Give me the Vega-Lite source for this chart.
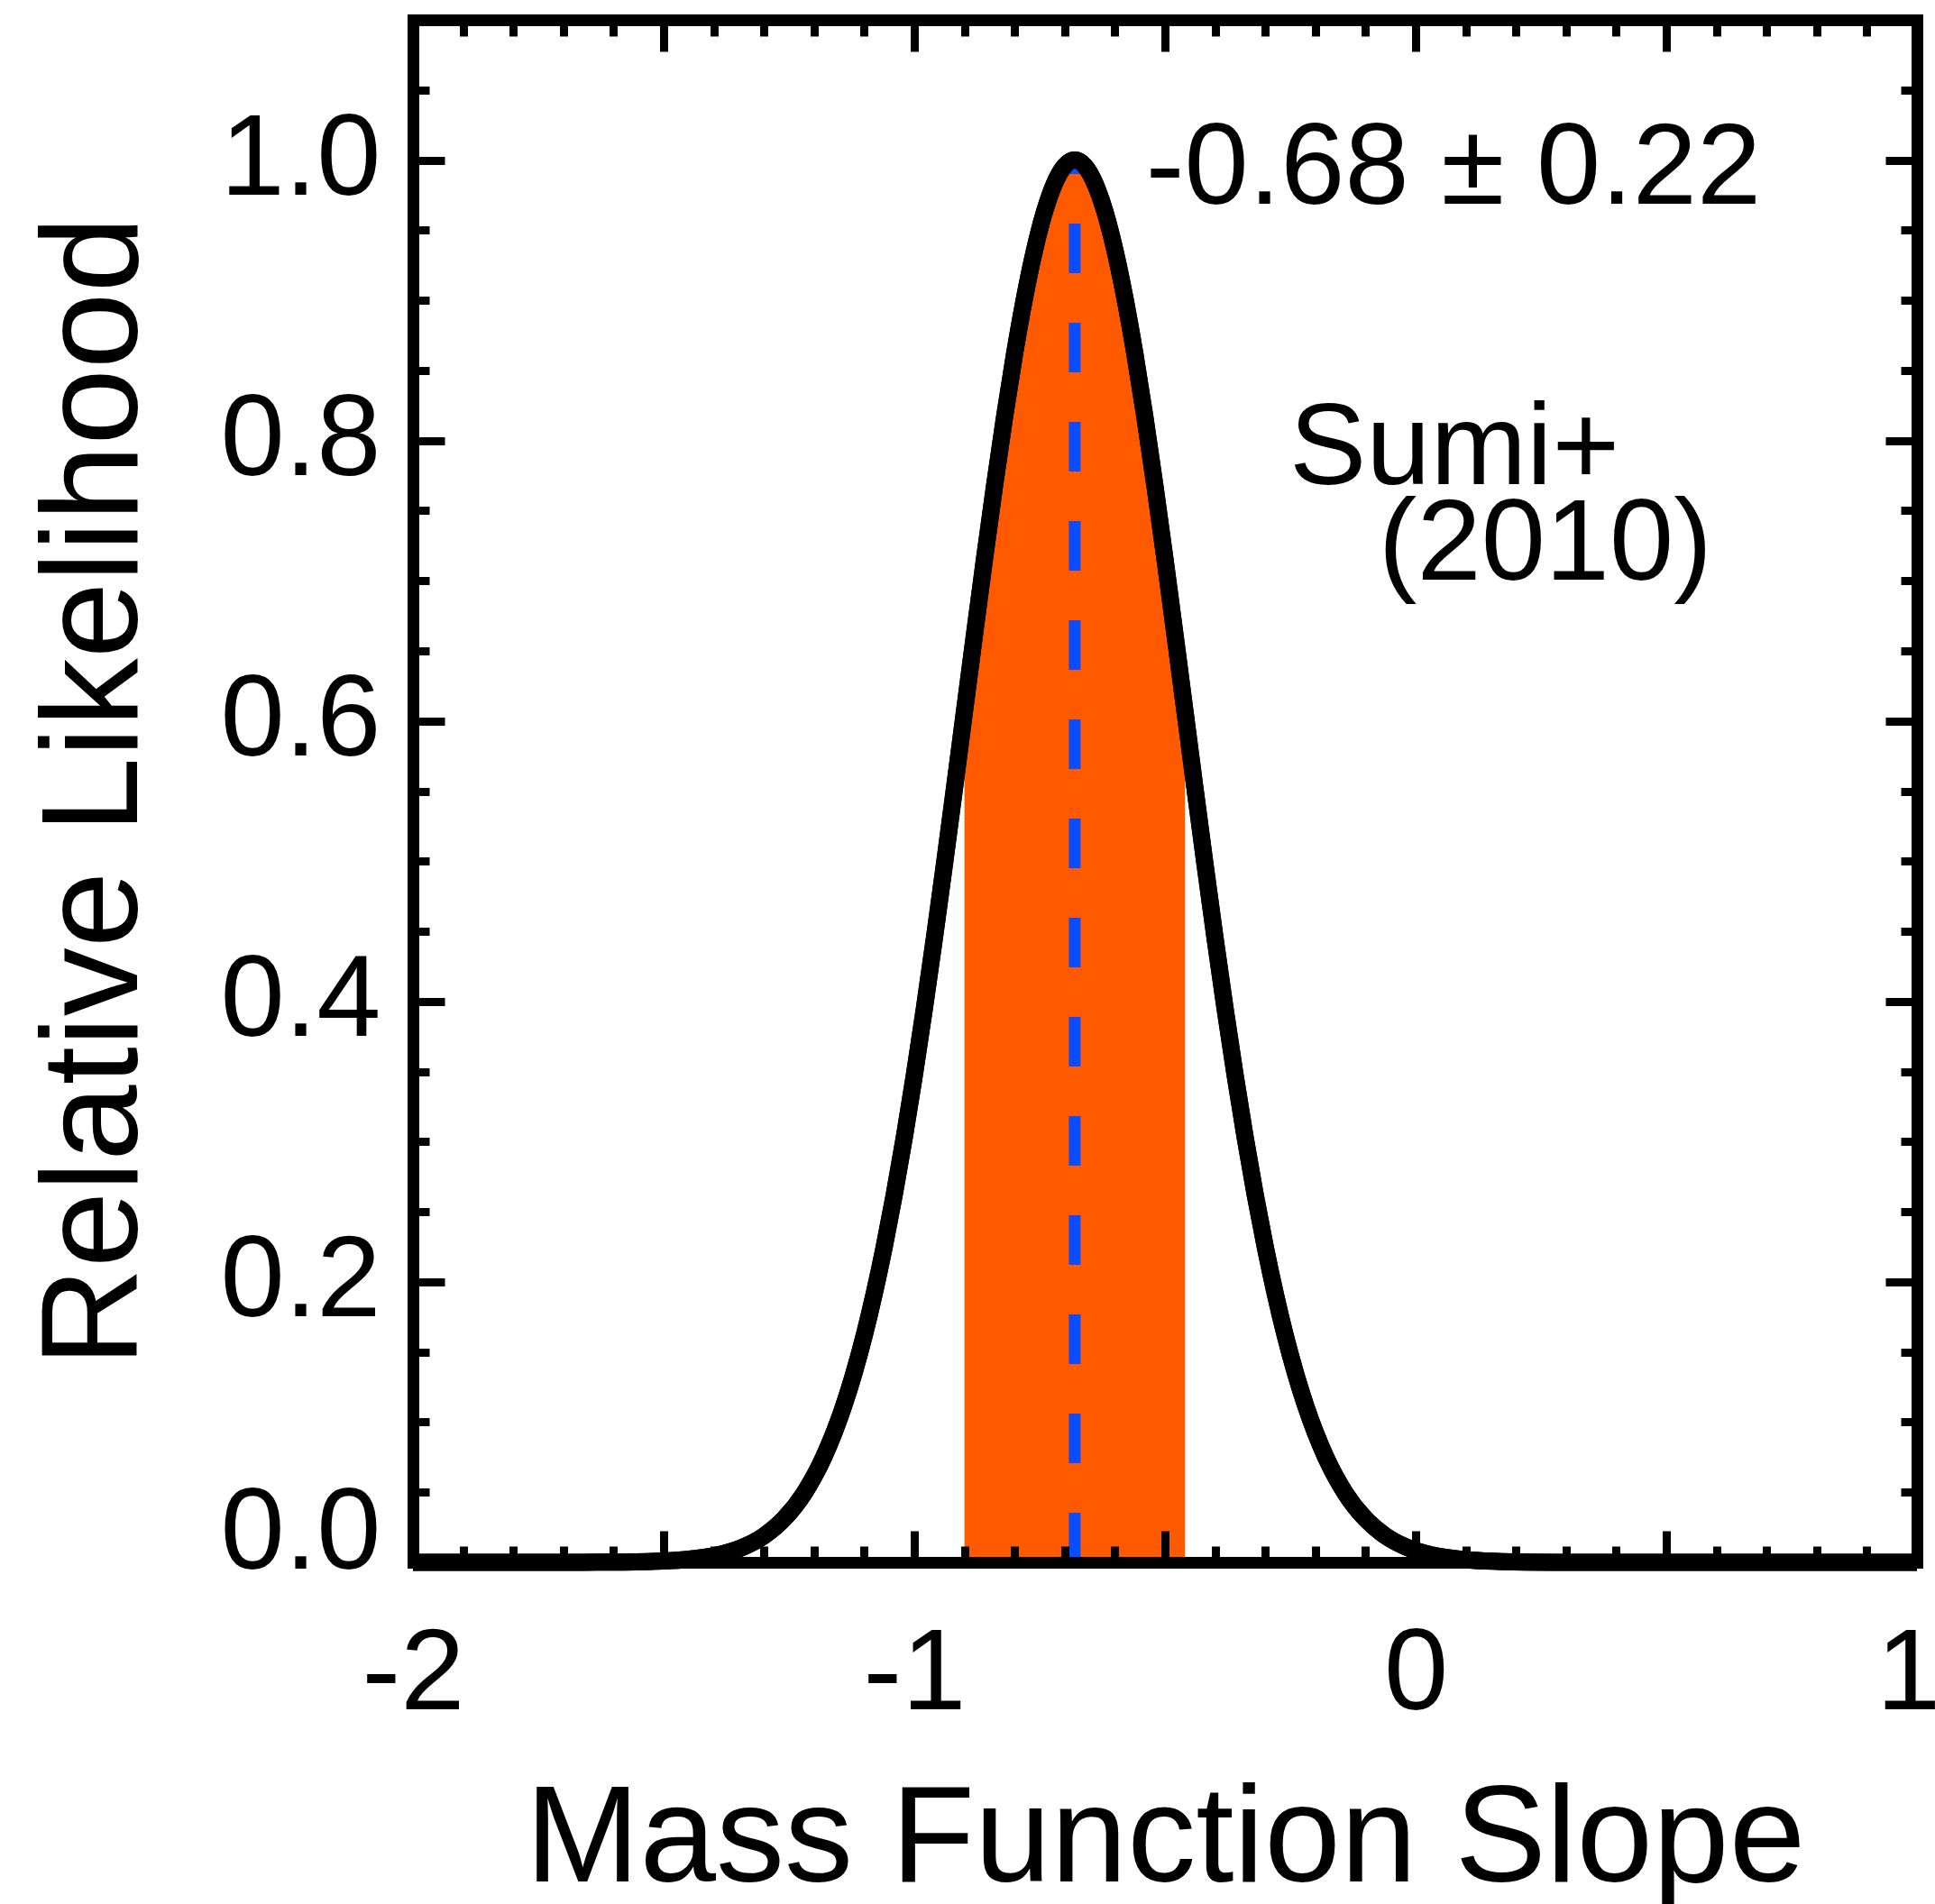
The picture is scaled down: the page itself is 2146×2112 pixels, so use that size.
{
  "$schema": "https://vega.github.io/schema/vega-lite/v6.json",
  "autosize": "none",
  "width": 1668,
  "height": 1711,
  "padding": {"left": 458, "top": 22, "right": 20, "bottom": 379},
  "background": "white",
  "config": {"view": {"stroke": null}},
  "data": {"values": [
    {"x": -2.0, "y": 0}, {"x": -1.8, "y": 0}, {"x": -1.66, "y": 0.00005}, {"x": -1.58, "y": 0.00023},
    {"x": -1.5, "y": 0.00096}, {"x": -1.44, "y": 0.00256}, {"x": -1.38, "y": 0.00633}, {"x": -1.34, "y": 0.01111},
    {"x": -1.3, "y": 0.01885}, {"x": -1.26, "y": 0.03096}, {"x": -1.22, "y": 0.04917}, {"x": -1.18, "y": 0.07557},
    {"x": -1.16, "y": 0.09254}, {"x": -1.14, "y": 0.11237}, {"x": -1.12, "y": 0.13534}, {"x": -1.1, "y": 0.16165},
    {"x": -1.08, "y": 0.1915}, {"x": -1.06, "y": 0.22498}, {"x": -1.04, "y": 0.26215}, {"x": -1.02, "y": 0.30294},
    {"x": -1.0, "y": 0.3472}, {"x": -0.98, "y": 0.39465}, {"x": -0.96, "y": 0.4449}, {"x": -0.94, "y": 0.49741},
    {"x": -0.92, "y": 0.55154}, {"x": -0.9, "y": 0.60653}, {"x": -0.88, "y": 0.66152}, {"x": -0.86, "y": 0.71554},
    {"x": -0.84, "y": 0.76762}, {"x": -0.82, "y": 0.8167}, {"x": -0.8, "y": 0.86178}, {"x": -0.78, "y": 0.90185},
    {"x": -0.76, "y": 0.93602}, {"x": -0.74, "y": 0.96349}, {"x": -0.72, "y": 0.98361}, {"x": -0.7, "y": 0.99588},
    {"x": -0.68, "y": 1.0},
    {"x": -0.66, "y": 0.99588}, {"x": -0.64, "y": 0.98361}, {"x": -0.62, "y": 0.96349}, {"x": -0.6, "y": 0.93602},
    {"x": -0.58, "y": 0.90185}, {"x": -0.56, "y": 0.86178}, {"x": -0.54, "y": 0.8167}, {"x": -0.52, "y": 0.76762},
    {"x": -0.5, "y": 0.71554}, {"x": -0.48, "y": 0.66152}, {"x": -0.46, "y": 0.60653}, {"x": -0.44, "y": 0.55154},
    {"x": -0.42, "y": 0.49741}, {"x": -0.4, "y": 0.4449}, {"x": -0.38, "y": 0.39465}, {"x": -0.36, "y": 0.3472},
    {"x": -0.34, "y": 0.30294}, {"x": -0.32, "y": 0.26215}, {"x": -0.3, "y": 0.22498}, {"x": -0.28, "y": 0.1915},
    {"x": -0.26, "y": 0.16165}, {"x": -0.24, "y": 0.13534}, {"x": -0.22, "y": 0.11237}, {"x": -0.2, "y": 0.09254},
    {"x": -0.18, "y": 0.07557}, {"x": -0.14, "y": 0.04917}, {"x": -0.1, "y": 0.03096}, {"x": -0.06, "y": 0.01885},
    {"x": -0.02, "y": 0.01111}, {"x": 0.02, "y": 0.00633}, {"x": 0.08, "y": 0.00256}, {"x": 0.14, "y": 0.00096},
    {"x": 0.22, "y": 0.00023}, {"x": 0.3, "y": 0.00005}, {"x": 0.5, "y": 0}, {"x": 0.8, "y": 0}, {"x": 1.0, "y": 0}
  ]},
  "resolve": {"axis": {"x": "independent", "y": "independent"}},
  "layer": [
    {
      "transform": [{"filter": "datum.x >= -0.9001 && datum.x <= -0.4599"}],
      "mark": {"type": "area", "color": "#ff5a00", "opacity": 1, "interpolate": "linear"},
      "encoding": {
        "x": {"field": "x", "type": "quantitative",
          "scale": {"domain": [-2, 1], "nice": false, "zero": false},
          "axis": {
            "orient": "bottom", "zindex": 1,
            "values": [-2, -1.9, -1.8, -1.7, -1.6, -1.5, -1.4, -1.3, -1.2, -1.1, -1, -0.9, -0.8, -0.7, -0.6, -0.5, -0.4, -0.3, -0.2, -0.1, 0, 0.1, 0.2, 0.3, 0.4, 0.5, 0.6, 0.7, 0.8, 0.9, 1],
            "domain": true, "domainColor": "black", "domainWidth": 13, "domainCap": "square",
            "grid": false,
            "ticks": true, "tickColor": "black", "tickWidth": 9,
            "tickSize": {"condition": {"test": "abs(datum.value*2 - round(datum.value*2)) < 0.001", "value": -35}, "value": -18},
            "labelExpr": "abs(datum.value - round(datum.value)) < 0.001 ? '' + round(datum.value) : ''",
            "labelOffset": {"condition": {"test": "datum.value > 0.99", "value": -10}, "value": 0},
            "labelFont": "Liberation Sans", "labelFontSize": 128, "labelColor": "black",
            "labelPadding": 96, "labelFlush": false, "labelOverlap": false, "labelBound": false,
            "title": "Mass Function Slope", "titleFont": "Liberation Sans", "titleFontSize": 152,
            "titleFontWeight": "normal", "titleColor": "black", "titlePadding": 33
          }},
        "y": {"field": "y", "type": "quantitative",
          "scale": {"domain": [0, 1.1], "nice": false, "zero": false},
          "axis": {
            "orient": "left", "zindex": 1,
            "values": [0, 0.05, 0.1, 0.15, 0.2, 0.25, 0.3, 0.35, 0.4, 0.45, 0.5, 0.55, 0.6, 0.65, 0.7, 0.75, 0.8, 0.85, 0.9, 0.95, 1.0, 1.05, 1.1],
            "domain": true, "domainColor": "black", "domainWidth": 13, "domainCap": "square",
            "grid": false,
            "ticks": true, "tickColor": "black", "tickWidth": 9,
            "tickSize": {"condition": {"test": "abs(datum.value*5 - round(datum.value*5)) < 0.001", "value": -35}, "value": -18},
            "labelExpr": "abs(datum.value*5 - round(datum.value*5)) < 0.001 && datum.value < 1.05 ? format(datum.value, '.1f') : ''",
            "labelFont": "Liberation Sans", "labelFontSize": 128, "labelColor": "black",
            "labelPadding": 71, "labelFlush": true, "labelFlushOffset": 33, "labelOverlap": false, "labelBound": false,
            "title": "Relative Likelihood", "titleFont": "Liberation Sans", "titleFontSize": 152,
            "titleFontWeight": "normal", "titleColor": "black", "titlePadding": 75
          }}
      }
    },
    {
      "mark": {"type": "line", "color": "black", "strokeWidth": 19, "interpolate": "monotone", "strokeJoin": "round"},
      "encoding": {
        "x": {"field": "x", "type": "quantitative",
          "axis": {
            "orient": "top", "zindex": 1,
            "values": [-2, -1.9, -1.8, -1.7, -1.6, -1.5, -1.4, -1.3, -1.2, -1.1, -1, -0.9, -0.8, -0.7, -0.6, -0.5, -0.4, -0.3, -0.2, -0.1, 0, 0.1, 0.2, 0.3, 0.4, 0.5, 0.6, 0.7, 0.8, 0.9, 1],
            "domain": true, "domainColor": "black", "domainWidth": 13, "domainCap": "square",
            "grid": false, "labels": false, "title": null,
            "ticks": true, "tickColor": "black", "tickWidth": 9,
            "tickSize": {"condition": {"test": "abs(datum.value*2 - round(datum.value*2)) < 0.001", "value": -35}, "value": -18}
          }},
        "y": {"field": "y", "type": "quantitative",
          "axis": {
            "orient": "right", "zindex": 1,
            "values": [0, 0.05, 0.1, 0.15, 0.2, 0.25, 0.3, 0.35, 0.4, 0.45, 0.5, 0.55, 0.6, 0.65, 0.7, 0.75, 0.8, 0.85, 0.9, 0.95, 1.0, 1.05, 1.1],
            "domain": true, "domainColor": "black", "domainWidth": 13, "domainCap": "square",
            "grid": false, "labels": false, "title": null,
            "ticks": true, "tickColor": "black", "tickWidth": 9,
            "tickSize": {"condition": {"test": "abs(datum.value*5 - round(datum.value*5)) < 0.001", "value": -35}, "value": -18}
          }}
      }
    },
    {
      "data": {"values": [{"mean": -0.68, "low": 0, "high": 1.0}]},
      "mark": {"type": "rule", "color": "#0a4dff", "strokeWidth": 13, "strokeDash": [55, 55], "strokeCap": "butt"},
      "encoding": {
        "x": {"field": "mean", "type": "quantitative", "axis": null},
        "y": {"field": "low", "type": "quantitative", "axis": null},
        "y2": {"field": "high"}
      }
    },
    {
      "mark": {"type": "line", "color": "black", "strokeWidth": 19, "interpolate": "monotone", "strokeJoin": "round"},
      "encoding": {
        "x": {"field": "x", "type": "quantitative", "axis": null},
        "y": {"field": "y", "type": "quantitative", "axis": null}
      }
    },
    {
      "data": {"values": [{"label": "-0.68 ± 0.22"}]},
      "mark": {"type": "text", "align": "left", "baseline": "alphabetic", "font": "Liberation Sans", "fontSize": 128, "color": "black"},
      "encoding": {
        "x": {"datum": -0.538, "type": "quantitative", "axis": null},
        "y": {"datum": 0.969, "type": "quantitative", "axis": null},
        "text": {"field": "label"}
      }
    },
    {
      "data": {"values": [{"label": "Sumi+"}]},
      "mark": {"type": "text", "align": "left", "baseline": "alphabetic", "font": "Liberation Sans", "fontSize": 128, "color": "black"},
      "encoding": {
        "x": {"datum": -0.252, "type": "quantitative", "axis": null},
        "y": {"datum": 0.7686, "type": "quantitative", "axis": null},
        "text": {"field": "label"}
      }
    },
    {
      "data": {"values": [{"label": "(2010)"}]},
      "mark": {"type": "text", "align": "left", "baseline": "alphabetic", "font": "Liberation Sans", "fontSize": 128, "color": "black"},
      "encoding": {
        "x": {"datum": -0.074, "type": "quantitative", "axis": null},
        "y": {"datum": 0.7005, "type": "quantitative", "axis": null},
        "text": {"field": "label"}
      }
    }
  ]
}
